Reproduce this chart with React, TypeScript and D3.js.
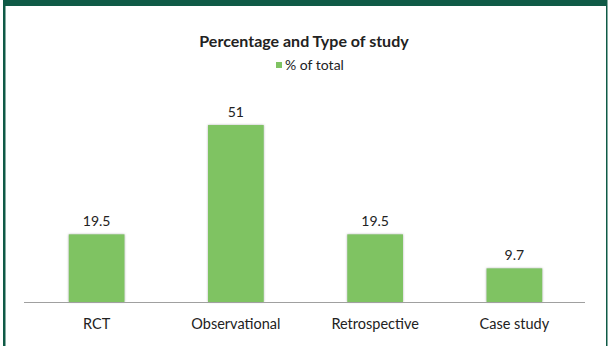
import React from "react";
import * as d3 from "d3";

const categories = ["RCT", "Observational", "Retrospective", "Case study"];
const values = [19.5, 51, 19.5, 9.7];
const valueLabels = ["19.5", "51", "19.5", "9.7"];
const seriesName = "% of total";
const title = "Percentage and Type of study";

const W = 608;
const H = 346;

export default function App() {
  const x = d3.scaleBand<string>().domain(categories).range([27, 584]).paddingInner(0.6).paddingOuter(0.3);
  const y = d3.scaleLinear().domain([0, 60]).range([302, 93.8]);
  const frame = "#0f5a46";
  const green = "#7fc362";
  const font = "Lato, 'Open Sans', sans-serif";
  return (
    <svg width={W} height={H} style={{ position: "absolute", left: 0, top: 0, background: "#fff" }}>
      <defs>
        <filter id="sh" x="-20%" y="-20%" width="140%" height="140%">
          <feDropShadow dx="0" dy="0" stdDeviation="1.3" floodColor="#9a9a9a" floodOpacity="0.8" />
        </filter>
      </defs>
      <rect x={0} y={0} width={W} height={H} fill="#fff" />
      <rect x={3} y={0} width={604} height={6} fill={frame} />
      <rect x={3} y={0} width={2.5} height={H} fill={frame} />
      <rect x={606} y={0} width={1.5} height={H} fill={frame} />
      <text x={304} y={47} textAnchor="middle" fontFamily={font} fontWeight={700} fontSize={16} fill="#222">{title}</text>
      <rect x={276} y={62} width={6} height={6} fill={green} />
      <text x={285} y={70} fontFamily={font} fontSize={14} fill="#222">{seriesName}</text>
      {categories.map((c, i) => (
        <rect key={c} x={x(c)} y={y(values[i])} width={x.bandwidth()} height={y(0) - y(values[i])} fill={green} filter="url(#sh)" />
      ))}
      <line x1={24} x2={585} y1={302.5} y2={302.5} stroke="#a0a0a0" strokeWidth={1} />
      {categories.map((c, i) => (
        <text key={c + "v"} x={x(c)! + x.bandwidth() / 2} y={y(values[i]) - 8} textAnchor="middle" fontFamily={font} fontSize={14} fill="#222">{valueLabels[i]}</text>
      ))}
      {categories.map((c) => (
        <text key={c + "l"} x={x(c)! + x.bandwidth() / 2} y={329} textAnchor="middle" fontFamily={font} fontSize={14.5} fill="#222">{c}</text>
      ))}
    </svg>
  );
}
